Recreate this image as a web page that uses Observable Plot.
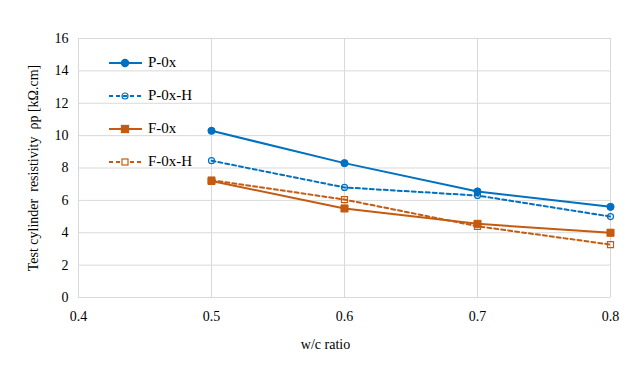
<!DOCTYPE html>
<html><head><meta charset="utf-8">
<script src="https://cdn.jsdelivr.net/npm/d3@7"></script>
<script src="https://cdn.jsdelivr.net/npm/@observablehq/plot@0.6"></script>
<style>
body{margin:0;background:#fff;}
#wrap{position:relative;width:627px;height:368px;font-family:"Liberation Serif","Times New Roman",serif;}
#wrap svg text{font-family:"Liberation Serif","Times New Roman",serif !important;font-variant-numeric:normal !important;}
#legend{position:absolute;left:108px;top:46px;}
.row{display:flex;align-items:center;height:33px;font-size:15px;color:#000;}
.row svg{margin-right:5px;}
</style></head>
<body><div id="wrap"><div id="legend"></div></div>
<script>
const wc = [0.5, 0.6, 0.7, 0.8];
const series = ["P-0x", "P-0x-H", "F-0x", "F-0x-H"];
const P0x  = [10.3, 8.3, 6.55, 5.6];
const P0xH = [8.45, 6.8, 6.3, 5.0];
const F0x  = [7.2, 5.5, 4.55, 4.0];
const F0xH = [7.25, 6.05, 4.4, 3.27];
const yTicks = [0, 2, 4, 6, 8, 10, 12, 14, 16];
const xTicks = [0.4, 0.5, 0.6, 0.7, 0.8];
const FF = "Liberation Serif";

const styles = {
  "P-0x":   {color:"#0070C0", dash:null,  symbol:"circle", fill:true,  r:3.6},
  "P-0x-H": {color:"#0070C0", dash:"4,3", symbol:"circle", fill:false, r:3},
  "F-0x":   {color:"#C55A11", dash:null,  symbol:"square", fill:true,  r:4},
  "F-0x-H": {color:"#C55A11", dash:"4,3", symbol:"square", fill:false, r:3.4}
};
const vals = {"P-0x":P0x, "P-0x-H":P0xH, "F-0x":F0x, "F-0x-H":F0xH};
const data = series.map(s => wc.map((x,i) => ({x, y: vals[s][i], s})));

const marks = [
  Plot.gridX(xTicks, {stroke:"#d9d9d9", strokeOpacity:1}),
  Plot.gridY(yTicks, {stroke:"#d9d9d9", strokeOpacity:1}),
  Plot.axisX(xTicks, {tickFormat:d3.format(".1f"), tickSize:0, tickPadding:14, fontSize:14, fontFamily:FF, label:null}),
  Plot.axisY(yTicks, {tickSize:0, tickPadding:10, fontSize:14, fontFamily:FF, label:"Test cylinder  resistivity  ρp [kΩ.cm]", labelAnchor:"center", labelArrow:"none", labelOffset:50, anchor:"left"}),
  Plot.text(["w/c ratio"], {frameAnchor:"bottom", dy:51, dx:-19, fontSize:14, fontFamily:FF, fill:"#000"})
];
data.forEach(d => {
  const st = styles[d[0].s];
  marks.push(Plot.line(d, {x:"x", y:"y", stroke:st.color, strokeWidth:2, strokeDasharray:st.dash}));
});
data.forEach(d => {
  const st = styles[d[0].s];
  marks.push(Plot.dot(d, {x:"x", y:"y", symbol:st.symbol, r:st.r,
    fill: st.fill ? st.color : "white", fillOpacity: st.fill ? 1 : 0,
    stroke: st.color, strokeWidth: st.fill ? 1 : 1.2}));
});

const chart = Plot.plot({
  width:627, height:368,
  marginLeft:78, marginRight:17, marginTop:38, marginBottom:71,
  style:{fontFamily:'"Liberation Serif", "Times New Roman", serif', fontSize:"14px", color:"#000", background:"#fff"},
  x:{domain:[0.4,0.8]},
  y:{domain:[0,16]},
  marks
});
document.getElementById("wrap").prepend(chart);

const leg = document.getElementById("legend");
series.forEach(s => {
  const st = styles[s];
  const row = document.createElement("div"); row.className = "row";
  const side = st.r * 1.77;
  const m = st.symbol === "circle"
    ? `<circle cx="17" cy="8" r="${st.r}" fill="${st.fill?st.color:'none'}" stroke="${st.color}" stroke-width="1.2"/>`
    : `<rect x="${17-side/2}" y="${8-side/2}" width="${side}" height="${side}" fill="${st.fill?st.color:'white'}" stroke="${st.color}" stroke-width="1.2"/>`;
  row.innerHTML = `<svg width="35" height="16"><line x1="1" x2="34" y1="8" y2="8" stroke="${st.color}" stroke-width="2" ${st.dash?`stroke-dasharray="${st.dash}"`:''}/>${m}</svg><span>${s}</span>`;
  leg.appendChild(row);
});
</script></body></html>
